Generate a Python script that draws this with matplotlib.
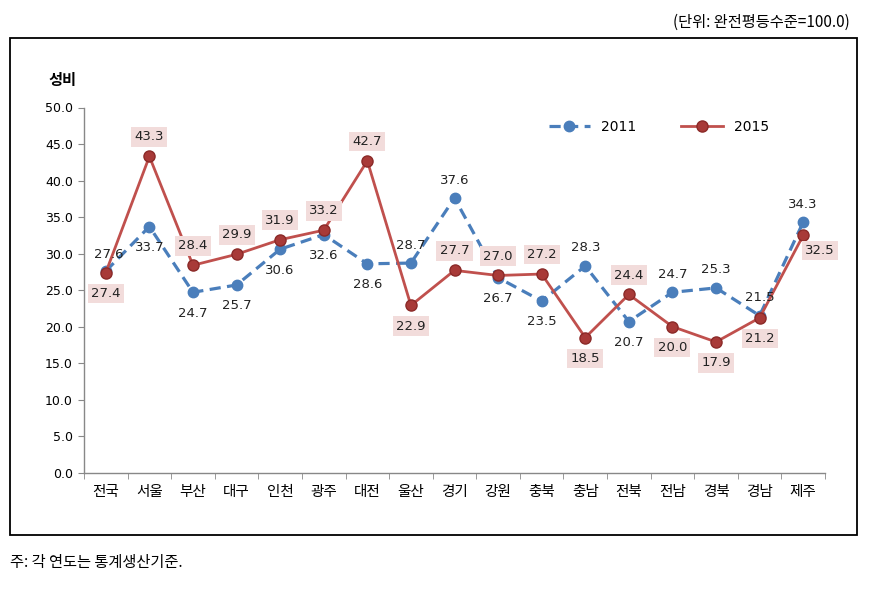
import matplotlib
matplotlib.use("Agg")
import matplotlib.pyplot as plt
from matplotlib.patches import Rectangle

plt.rcParams['font.family'] = ['Noto Sans CJK KR', 'DejaVu Sans']

categories = ['전국', '서울', '부산', '대구', '인천', '광주', '대전', '울산', '경기',
              '강원', '충북', '충남', '전북', '전남', '경북', '경남', '제주']
v2011 = [27.6, 33.7, 24.7, 25.7, 30.6, 32.6, 28.6, 28.7, 37.6, 26.7, 23.5, 28.3,
         20.7, 24.7, 25.3, 21.5, 34.3]
v2015 = [27.4, 43.3, 28.4, 29.9, 31.9, 33.2, 42.7, 22.9, 27.7, 27.0, 27.2, 18.5,
         24.4, 20.0, 17.9, 21.2, 32.5]
yticks = [0, 5, 10, 15, 20, 25, 30, 35, 40, 45, 50]

# label placement: 1 above, -1 below
pos2011 = [1, -1, -1, -1, -1, -1, -1, 1, 1, -1, -1, 1, -1, 1, 1, 1, 1]
pos2015 = [-1, 1, 1, 1, 1, 1, 1, -1, 1, 1, 1, -1, 1, -1, -1, -1, -1]

blue = '#4A7EBB'
red = '#C0504D'

fig = plt.figure(figsize=(8.74, 5.9), dpi=100)
ax = fig.add_axes([84/874, 1-472.7/590, (825-84)/874, (472.7-107.5)/590])

x = list(range(len(categories)))
ax.plot(x, v2011, color=blue, lw=2.3, ls=(0, (3.5, 2)), marker='o', ms=7.5,
        mfc=blue, mec=blue, label='2011', zorder=3)
ax.plot(x, v2015, color=red, lw=2.0, marker='o', ms=8, mfc='#A83A38',
        mec='#8B2A28', mew=1, label='2015', zorder=4)

for i, v in enumerate(v2011):
    dx = 0
    dy = 13 if pos2011[i] > 0 else -15
    if i == 0:
        dx = 2
        dy = 12
    ax.annotate(f'{v:.1f}', (i, v), xytext=(dx, dy), textcoords='offset points',
                ha='center', va='center', fontsize=9.5, color='#222222', zorder=6,
                family=['DejaVu Sans'])
for i, v in enumerate(v2015):
    dx = 0
    dy = 14 if pos2015[i] > 0 else -15
    if i == 16:
        dx = 12
        dy = -11
    ax.annotate(f'{v:.1f}', (i, v), xytext=(dx, dy), textcoords='offset points',
                ha='center', va='center', fontsize=9.5, color='#222222', zorder=6,
                family=['DejaVu Sans'],
                bbox=dict(boxstyle='square,pad=0.25', fc='#F2DCDB', ec='none'))

ax.set_xlim(-0.5, len(categories) - 0.5)
ax.set_ylim(0, 50)
ax.set_yticks(yticks)
ax.set_yticklabels([f'{t:.1f}' for t in yticks], fontsize=9, family=['DejaVu Sans'])
ax.set_xticks(x)
ax.set_xticklabels(categories, fontsize=10.5)
ax.set_xticks([i - 0.5 for i in range(len(categories) + 1)], minor=True)
ax.tick_params(axis='x', which='major', length=0, pad=9)
ax.tick_params(axis='x', which='minor', length=4, color='#888888', direction='out')
ax.tick_params(axis='y', length=4, color='#888888', direction='out', pad=4)
for s in ['top', 'right']:
    ax.spines[s].set_visible(False)
for s in ['left', 'bottom']:
    ax.spines[s].set_color('#888888')
    ax.spines[s].set_linewidth(1)

leg = ax.legend(loc='upper left', bbox_to_anchor=(0.61, 1.0), ncol=2, frameon=False,
                prop={'family': ['DejaVu Sans'], 'size': 10}, handlelength=3,
                columnspacing=3.2)

fig.text(48/874, 1-80/590, '성비', fontsize=11, fontweight='bold', ha='left', va='center')
fig.text(850/874, 1-22/590, '(단위: 완전평등수준=100.0)', fontsize=11, ha='right', va='center')
fig.text(10/874, 1-563/590, '주: 각 연도는 통계생산기준.', fontsize=11, ha='left', va='center')

fig.patches.append(Rectangle((10/874, 1-535/590), (857-10)/874, (535-38)/590,
                             transform=fig.transFigure, fill=False, ec='black', lw=1.3))

fig.savefig('out.png', dpi=100)
